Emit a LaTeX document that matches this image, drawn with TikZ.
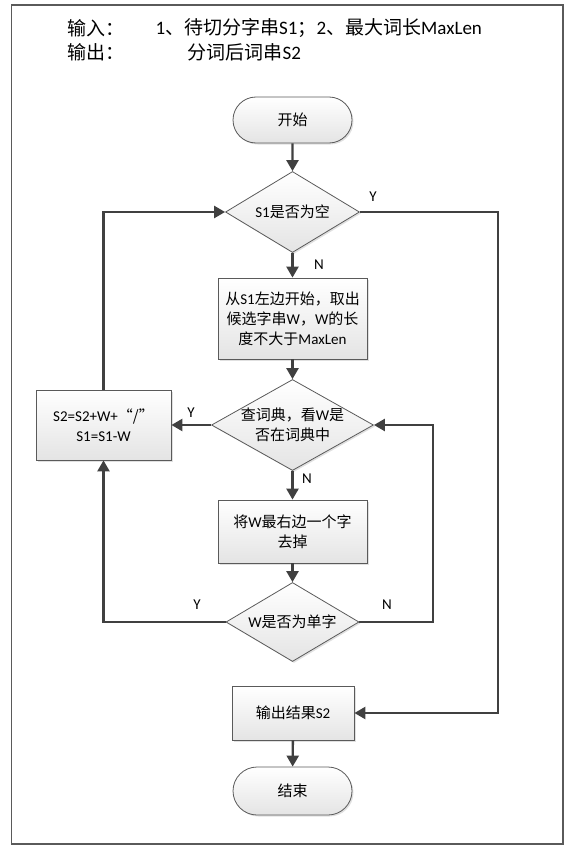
\documentclass[tikz,border=0pt]{standalone}
\usepackage{fontspec}
\setmainfont{Carlito}
\newfontfamily\cjk{Noto Sans CJK SC}
\newcommand{\zh}[1]{{\cjk #1}}
\usepackage{tikz}
\usetikzlibrary{shapes}
\usetikzlibrary{shapes.geometric}
\usetikzlibrary{shapes.misc}
\usetikzlibrary{shadows}
\usetikzlibrary{arrows.meta}
\definecolor{linegray}{HTML}{404040}
\definecolor{edgegray}{HTML}{5A5A5A}
\definecolor{fillgray}{HTML}{E4E4E4}

\begin{document}
\begin{tikzpicture}[x=1pt, y=-1pt,
    every node/.style={font=\fontsize{15}{20}\selectfont, text=black},
    shape base/.style={draw=edgegray, line width=0.8pt, top color=white, bottom color=fillgray,
      drop shadow={shadow xshift=1.5pt, shadow yshift=-1.5pt, opacity=0.12, fill=black},
      align=center, inner sep=0pt},
    box/.style={shape base, rectangle},
    term/.style={shape base, rounded rectangle},
    test/.style={shape base, diamond, inner sep=-6pt},
    conn/.style={draw=linegray, line width=2.4pt, -{Triangle[length=11pt,width=12pt]}},
    title/.style={anchor=west, font=\fontsize{19}{22}\selectfont, text=black}]
   \useasboundingbox (0, 0) rectangle (571, 856);
   \draw[edgegray, line width=1.2pt] (11.5, 5) rectangle (563, 844);

  % header
  \node[title] (inlab) at (64, 28) {\zh{输入：}};
  \node[title] (intxt) at (152, 28) {1\zh{、待切分字串}S1\zh{；}2\zh{、最大词长}MaxLen};
  \node[title] (outlab) at (64, 52) {\zh{输出：}};
  \node[title] (outtxt) at (184, 52) {\zh{分词后词串}S2};

  % main column
  \node[term, minimum width=119pt, minimum height=46pt] (start) at (292.5, 120) {\zh{开始}};
  \node[test, aspect=1.65, minimum width=134pt, minimum height=81pt] (empty) at (292.5, 212) {S1\zh{是否为空}};
  \node[box, minimum width=149pt, minimum height=81pt] (pick) at (292.5, 318.5)
    {\zh{从}S1\zh{左边开始，取出}\\\zh{候选字串}W\zh{，}W\zh{的长}\\\zh{度不大于}MaxLen};
  \node[test, aspect=1.78, minimum width=162pt, minimum height=91pt] (dict) at (292.5, 425)
    {\zh{查词典，看}W\zh{是}\\\zh{否在词典中}};
  \node[box, minimum width=149pt, minimum height=63pt] (cut) at (292.5, 531.5)
    {\zh{将}W\zh{最右边一个字}\\\zh{去掉}};
  \node[test, aspect=1.68, minimum width=133pt, minimum height=79pt] (single) at (292.5, 622) {W\zh{是否为单字}};
  \node[box, minimum width=122pt, minimum height=54pt] (result) at (293, 713) {\zh{输出结果}S2};
  \node[term, minimum width=119pt, minimum height=48pt] (stop) at (292.5, 791) {\zh{结束}};

  % side box
  \node[box, minimum width=135pt, minimum height=70pt] (split) at (103.5, 425)
    {S2=S2+W+\zh{“/”}\\S1=S1-W};

  \coordinate (yes1) at (498, 212);
  \coordinate (loop) at (433, 622);

  \draw[conn] (start) -- (empty);
  \draw[conn] (empty) -- (pick);
  \draw[conn] (pick) -- (dict);
  \draw[conn] (dict) -- (cut);
  \draw[conn] (cut) -- (single);
  \draw[conn] (result) -- (stop);
  \draw[conn] (dict) -- (split);
  \draw[conn] (split) |- (empty);
  \draw[conn] (single) -| (split);
  \draw[conn] (single) -- (loop) |- (dict);
  \draw[conn] (empty) -- (yes1) |- (result);

  % branch labels
  \node (ya) at (373, 197) {Y};
  \node (na) at (319, 265) {N};
  \node (yb) at (191, 413) {Y};
  \node (nb) at (307, 479) {N};
  \node (yc) at (197, 605) {Y};
  \node (nc) at (387, 605) {N};
\end{tikzpicture}
\end{document}
